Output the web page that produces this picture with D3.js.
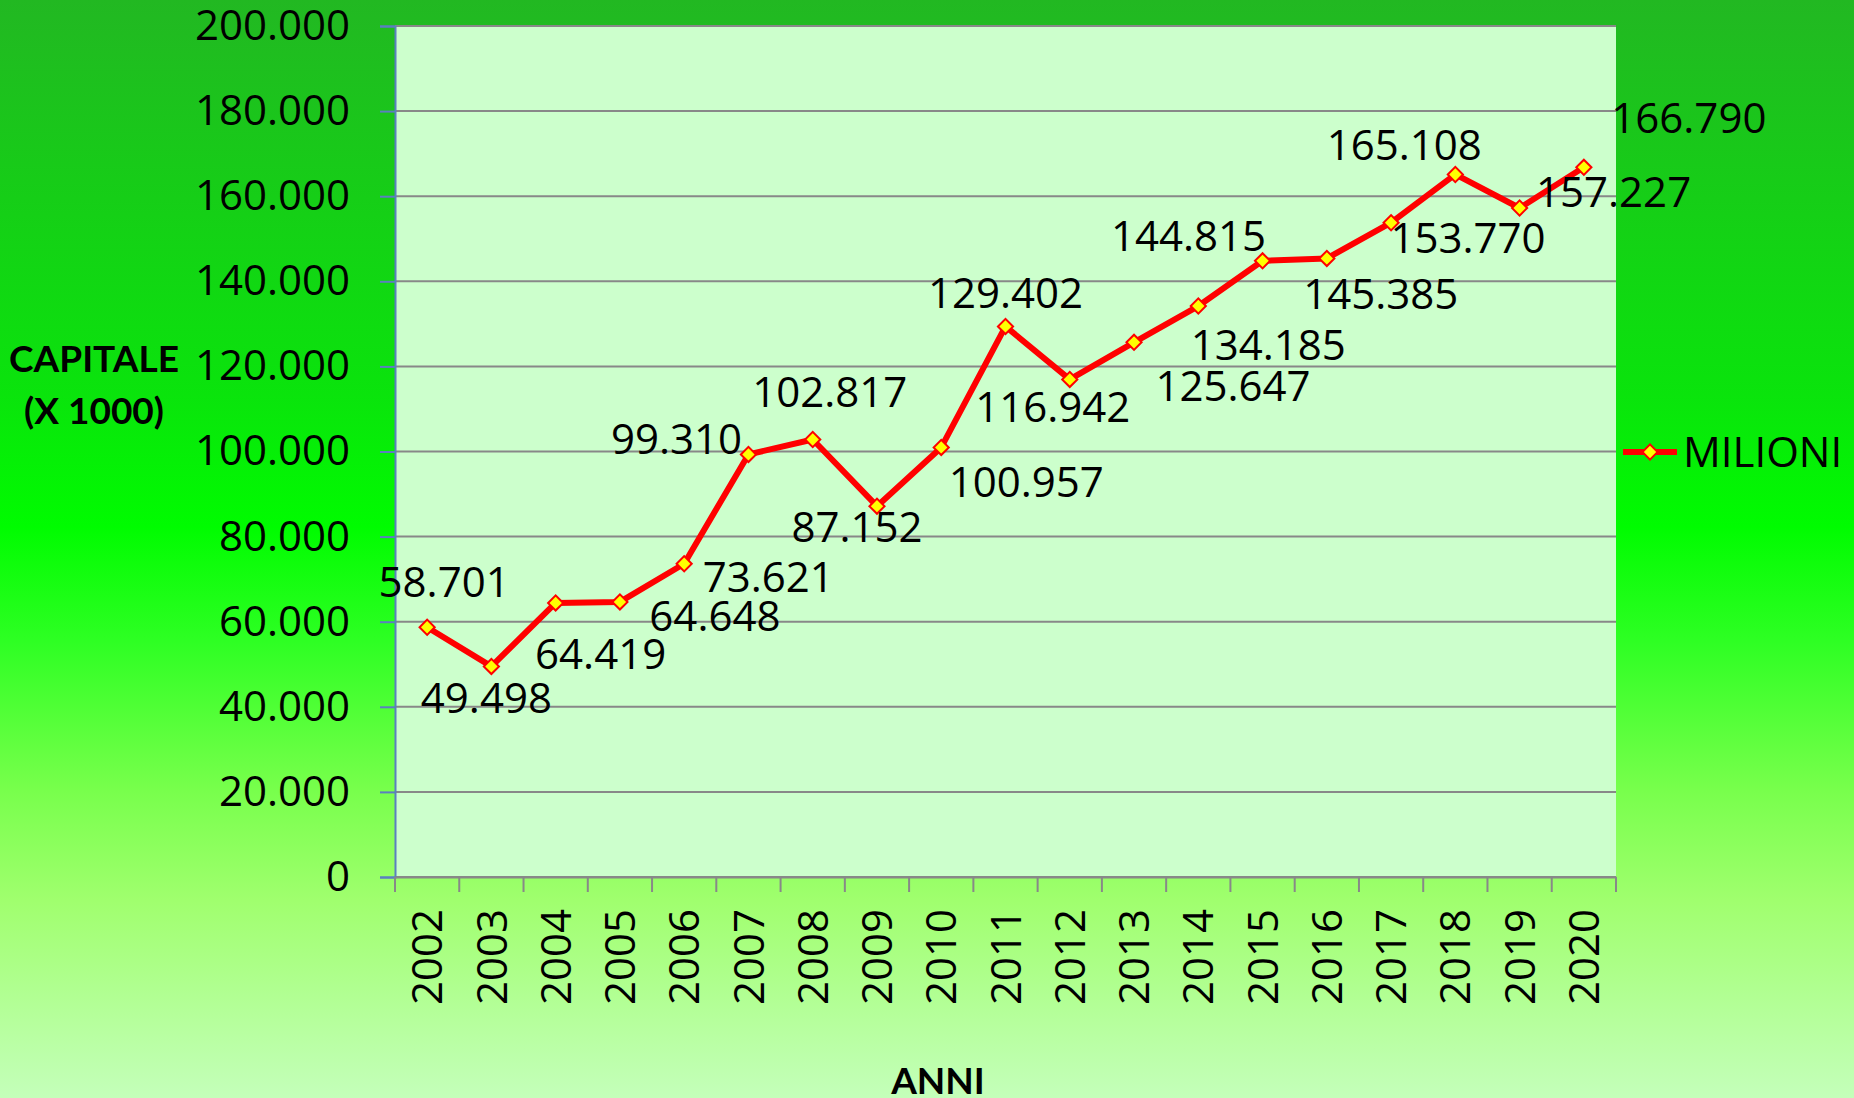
<!DOCTYPE html>
<html>
<head>
<meta charset="utf-8">
<script src="https://cdn.jsdelivr.net/npm/d3@7"></script>
<style>
  html, body { margin: 0; padding: 0; overflow: hidden; }
  svg { display: block; font-family: "Open Sans", Lato, sans-serif; }
</style>
</head>
<body>
<div id="chart"></div>
<script>
var years = ["2002", "2003", "2004", "2005", "2006", "2007", "2008", "2009", "2010", "2011",
             "2012", "2013", "2014", "2015", "2016", "2017", "2018", "2019", "2020"];
var milioni = [58701, 49498, 64419, 64648, 73621, 99310, 102817, 87152, 100957, 129402,
               116942, 125647, 134185, 144815, 145385, 153770, 165108, 157227, 166790];
var yTicks = [0, 20000, 40000, 60000, 80000, 100000, 120000, 140000, 160000, 180000, 200000];
var seriesName = "MILIONI";

// hand placed data labels in the original, offset from each point (px)
var labelDx = [17, -5, 45, 95, 84, -72, 17, -20, 85, 0, -17, 99, 70, -74, 54, 77, -51, 94, 105];
var labelDy = [-45, 31, 51, 14, 13, -16, -48, 21, 34, -34, 27, 44, 39, -25, 35, 15, -30, -16, -49];

var W = 1854, H = 1098;
var plot = { left: 395, top: 26, right: 1616, bottom: 877 };
var numFont = "'Open Sans', Lato, sans-serif";
var titleFont = "Lato, 'Open Sans', sans-serif";

var svg = d3.select("#chart").append("svg")
    .attr("width", W)
    .attr("height", H);

var grad = svg.append("defs").append("linearGradient")
    .attr("id", "bg").attr("x1", 0).attr("y1", 0).attr("x2", 0).attr("y2", 1);
[["0%", "#22b822"], ["36%", "#0ae40c"], ["48%", "#00fc00"], ["58%", "#2cff22"],
 ["72%", "#78ff4c"], ["82%", "#a0ff6e"], ["100%", "#c4ffba"]].forEach(function(s) {
    grad.append("stop").attr("offset", s[0]).attr("stop-color", s[1]);
});

svg.append("rect").attr("width", W).attr("height", H).attr("fill", "url(#bg)");

var x = d3.scaleBand().domain(years).range([plot.left, plot.right]);
var y = d3.scaleLinear().domain([0, 200000]).range([plot.bottom, plot.top]);

svg.append("rect")
    .attr("x", plot.left).attr("y", plot.top)
    .attr("width", plot.right - plot.left).attr("height", plot.bottom - plot.top)
    .attr("fill", "#ccffcc");

// gridlines
svg.append("g").selectAll("line")
    .data(yTicks)
    .enter().append("line")
    .attr("x1", plot.left).attr("x2", plot.right)
    .attr("y1", function(d) { return y(d); })
    .attr("y2", function(d) { return y(d); })
    .attr("stroke", "#888888")
    .attr("stroke-width", 2);

var fmt = function(v) { return d3.format(",")(v).replace(/,/g, "."); };

// y axis
var yAxis = svg.append("g")
    .attr("transform", "translate(" + plot.left + ",0)")
    .call(d3.axisLeft(y).tickValues(yTicks).tickSize(15).tickPadding(30).tickFormat(fmt));
yAxis.select(".domain").attr("stroke", "#5b7fc0").attr("stroke-width", 2);
yAxis.selectAll(".tick line").attr("stroke", "#5b7fc0").attr("stroke-width", 2);
yAxis.selectAll("text")
    .attr("font-size", 42)
    .attr("fill", "#000")
    .attr("font-family", numFont);

// x axis
var xAxis = svg.append("g")
    .attr("transform", "translate(0," + plot.bottom + ")")
    .call(d3.axisBottom(x).tickSize(0).tickPadding(0));
xAxis.select(".domain").attr("stroke", "#888888").attr("stroke-width", 2);
xAxis.selectAll(".tick text")
    .attr("font-size", 42)
    .attr("fill", "#000")
    .attr("font-family", numFont)
    .attr("transform", "rotate(-90)")
    .attr("text-anchor", "end")
    .attr("dy", "0.36em")
    .attr("x", -32)
    .attr("y", 0);
xAxis.selectAll(".xtick")
    .data(d3.range(years.length + 1))
    .enter().append("line")
    .attr("class", "xtick")
    .attr("x1", function(i) { return plot.left + i * x.step(); })
    .attr("x2", function(i) { return plot.left + i * x.step(); })
    .attr("y1", 0).attr("y2", 15)
    .attr("stroke", "#888888").attr("stroke-width", 2);

// line
var cx = function(i) { return x(years[i]) + x.bandwidth() / 2; };
var line = d3.line()
    .x(function(d, i) { return cx(i); })
    .y(function(d) { return y(d); });

svg.append("path")
    .datum(milioni)
    .attr("d", line)
    .attr("fill", "none")
    .attr("stroke", "#ff0000")
    .attr("stroke-width", 6)
    .attr("stroke-linejoin", "round");

var diamond = d3.symbol().type(d3.symbolSquare).size(115);
svg.append("g").selectAll("path")
    .data(milioni)
    .enter().append("path")
    .attr("d", diamond)
    .attr("transform", function(d, i) { return "translate(" + cx(i) + "," + y(d) + ") rotate(45)"; })
    .attr("fill", "#ffff00")
    .attr("stroke", "#ff0000")
    .attr("stroke-width", 2);

// data labels
svg.append("g").selectAll("text")
    .data(milioni)
    .enter().append("text")
    .attr("x", function(d, i) { return cx(i) + labelDx[i]; })
    .attr("y", function(d, i) { return y(d) + labelDy[i]; })
    .attr("text-anchor", "middle")
    .attr("dy", "0.36em")
    .attr("font-size", 42)
    .attr("font-family", numFont)
    .attr("fill", "#000")
    .text(fmt);

// axis titles
var yTitle = svg.append("text")
    .attr("text-anchor", "middle")
    .attr("font-size", 37)
    .attr("font-weight", "bold")
    .attr("font-family", titleFont)
    .attr("fill", "#000");
yTitle.append("tspan").attr("x", 94).attr("y", 372).text("CAPITALE");
yTitle.append("tspan").attr("x", 94).attr("y", 424).text("(X 1000)");

svg.append("text")
    .attr("x", 938).attr("y", 1094)
    .attr("text-anchor", "middle")
    .attr("font-size", 37)
    .attr("font-weight", "bold")
    .attr("font-family", titleFont)
    .attr("fill", "#000")
    .text("ANNI");

// legend
var leg = svg.append("g").attr("transform", "translate(1623,452)");
leg.append("line")
    .attr("x1", 0).attr("x2", 54).attr("y1", 0).attr("y2", 0)
    .attr("stroke", "#ff0000").attr("stroke-width", 6);
leg.append("path")
    .attr("d", diamond)
    .attr("transform", "translate(27,0) rotate(45)")
    .attr("fill", "#ffff00")
    .attr("stroke", "#ff0000")
    .attr("stroke-width", 2);
leg.append("text")
    .attr("x", 60).attr("y", 0)
    .attr("dy", "0.36em")
    .attr("font-size", 42)
    .attr("font-family", numFont)
    .attr("fill", "#000")
    .text(seriesName);
</script>
</body>
</html>
